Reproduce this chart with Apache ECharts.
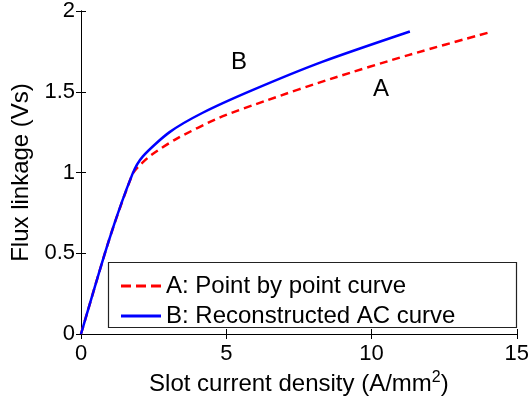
<!DOCTYPE html>
<html>
<head>
<meta charset="utf-8">
<script src="https://cdn.jsdelivr.net/npm/echarts@6/dist/echarts.min.js"></script>
<style>html,body{margin:0;padding:0;background:#fff;}#c{width:532px;height:403px;}</style>
</head>
<body>
<div id="c"></div>
<script>
// Data
var curveA = [[0,0],[0.97,0.585],[1.77,0.99],[1.96,1.034],[2.42,1.109],[3.3,1.21],[4.76,1.339],[6.4,1.447],[8.6,1.58],[11.27,1.727],[14.0,1.865]];
var curveB = [[0,0],[0.97,0.585],[1.77,0.99],[2.13,1.1],[3.05,1.25],[4.19,1.37],[5.9,1.51],[8.3,1.685],[11.32,1.873]];
var seriesNames = ['A: Point by point curve','B: Reconstructed AC curve'];
var xTicks = [0,5,10,15];
var yTicks = [0,0.5,1,1.5,2];

var FONT = 'Liberation Sans, Arial, sans-serif';
var chart = echarts.init(document.getElementById('c'), null, {renderer:'canvas'});
var axisCommon = {
  axisLine:{show:true,lineStyle:{color:'#000',width:1}},
  axisTick:{show:true,inside:true,length:5,lineStyle:{color:'#000'}},
  splitLine:{show:false}
};
chart.setOption({
  animation:false,
  backgroundColor:'#fff',
  grid:{left:81,right:13,top:7,bottom:69,containLabel:false},
  xAxis:[
    Object.assign({type:'value',min:0,max:15,interval:5,position:'bottom',
      name:'{n|Slot current density (A/mm}{s|2}{n|)}',nameLocation:'middle',nameGap:33,
      nameTextStyle:{rich:{n:{fontSize:24,fontFamily:FONT,color:'#000'},s:{fontSize:16,fontFamily:FONT,color:'#000',verticalAlign:'top',padding:[0,0,12,0]}}},
      axisLabel:{fontSize:22,fontFamily:FONT,color:'#000',margin:9}},axisCommon),
    Object.assign({type:'value',min:0,max:15,interval:5,position:'top',axisLabel:{show:false}},axisCommon)
  ],
  yAxis:[
    Object.assign({type:'value',min:0,max:2,interval:0.5,position:'left',
      name:'Flux linkage (Vs)',nameLocation:'middle',nameGap:46,
      nameTextStyle:{fontSize:24,fontFamily:FONT,color:'#000'},
      axisLabel:{fontSize:22,fontFamily:FONT,color:'#000',margin:6,formatter:function(v){return String(v);}}},axisCommon),
    Object.assign({type:'value',min:0,max:2,interval:0.5,position:'right',axisLabel:{show:false}},axisCommon)
  ],
  legend:{
    orient:'vertical',left:116,top:269,
    itemWidth:40,itemHeight:3,itemGap:6,
    textStyle:{fontSize:24,fontFamily:FONT,color:'#000',lineHeight:24},
    itemTextGap:5,z:6,
    data:[
      {name:seriesNames[0],icon:'path://M0,0h10v3h-10z M15,0h10v3h-10z M30,0h10v3h-10z',itemStyle:{color:'#ff0000'}},
      {name:seriesNames[1],icon:'path://M0,0h40v3h-40z',itemStyle:{color:'#0000ff'}}
    ]
  },
  graphic:[
    {type:'rect',shape:{x:108.5,y:262.5,width:408,height:65},style:{fill:'#fff',stroke:'#222',lineWidth:1.2},z:3},
    {type:'text',x:239,y:62,style:{text:'B',font:'24px '+FONT,fill:'#000',textAlign:'center',textVerticalAlign:'middle'},z:4},
    {type:'text',x:381,y:89,style:{text:'A',font:'24px '+FONT,fill:'#000',textAlign:'center',textVerticalAlign:'middle'},z:4}
  ],
  series:[
    {name:seriesNames[0],type:'line',data:curveA,symbol:'none',smooth:0.25,
      lineStyle:{color:'#ff0000',width:2.5,type:[8,5]},itemStyle:{color:'#ff0000'},z:2},
    {name:seriesNames[1],type:'line',data:curveB,symbol:'none',smooth:0.25,
      lineStyle:{color:'#0000ff',width:2.5,type:'solid'},itemStyle:{color:'#0000ff'},z:2}
  ]
});
</script>
</body>
</html>
